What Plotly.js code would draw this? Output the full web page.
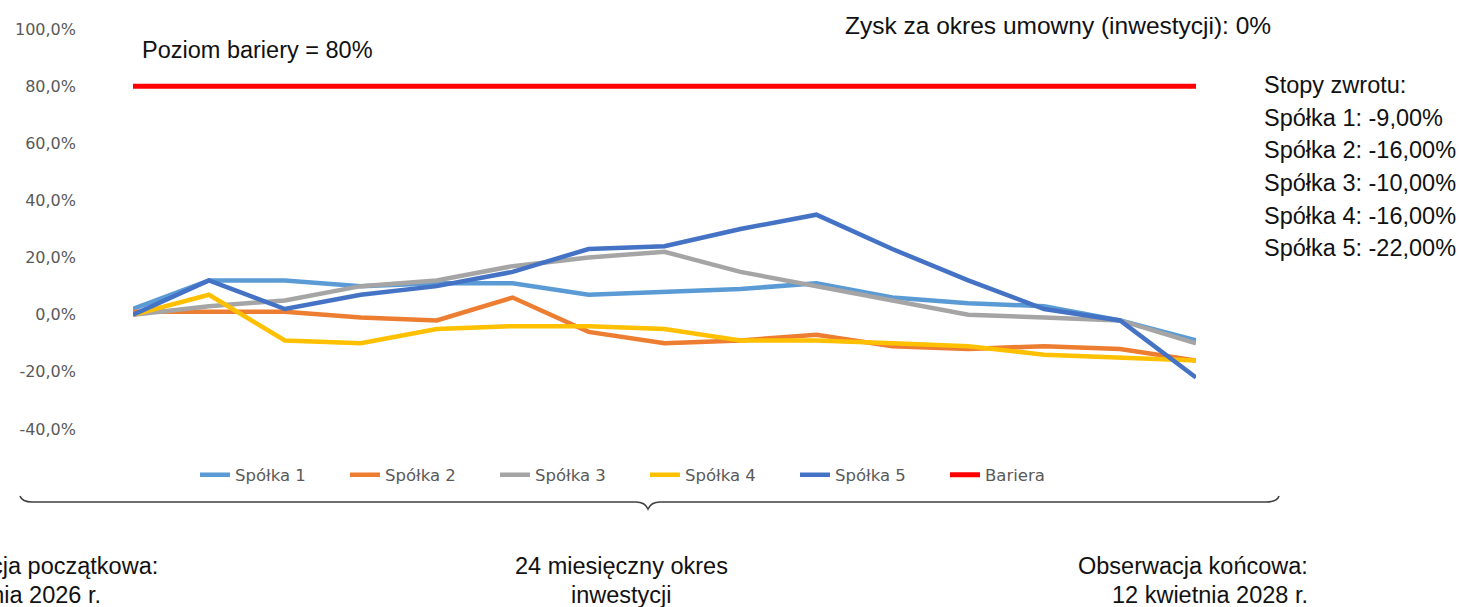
<!DOCTYPE html>
<html>
<head>
<meta charset="utf-8">
<script src="https://cdn.plot.ly/plotly-3.0.1.min.js"></script>
<style>html,body{margin:0;padding:0;background:#fff;overflow:hidden}#chart{width:1461px;height:607px}</style>
</head>
<body>
<div id="chart"></div>
<script>
// Observation points (15 observations over the 24-month period)
const observations = [0,1,2,3,4,5,6,7,8,9,10,11,12,13,14];
const spolka1 = [2, 12, 12, 10, 11, 11, 7, 8, 9, 11, 6, 4, 3, -2, -9];
const spolka2 = [1, 1, 1, -1, -2, 6, -6, -10, -9, -7, -11, -12, -11, -12, -16];
const spolka3 = [0, 3, 5, 10, 12, 17, 20, 22, 15, 10, 5, 0, -1, -2, -10];
const spolka4 = [0, 7, -9, -10, -5, -4, -4, -5, -9, -9, -10, -11, -14, -15, -16];
const spolka5 = [0, 12, 2, 7, 10, 15, 23, 24, 30, 35, 23, 12, 2, -2, -22];
const bariera = [80, 80, 80, 80, 80, 80, 80, 80, 80, 80, 80, 80, 80, 80, 80];
const seriesNames = ["Spółka 1", "Spółka 2", "Spółka 3", "Spółka 4", "Spółka 5", "Bariera"];
const seriesColors = ["#5B9BD5", "#ED7D31", "#A5A5A5", "#FFC000", "#4472C4", "#FF0000"];
const yTickVals = [-40, -20, 0, 20, 40, 60, 80, 100];
const yTickText = ["-40,0%", "-20,0%", "0,0%", "20,0%", "40,0%", "60,0%", "80,0%", "100,0%"];
const stopyLines = ["Stopy zwrotu:", "Spółka 1: -9,00%", "Spółka 2: -16,00%", "Spółka 3: -10,00%", "Spółka 4: -16,00%", "Spółka 5: -22,00%"];

// layout geometry (pixels)
const W = 1461, H = 607;
const L = 133, R = 1196, T = 29, B = 429;
const px = x => (x - L) / (R - L);
const py = y => (B - y) / (B - T);

const allSeries = [spolka1, spolka2, spolka3, spolka4, spolka5, bariera];
const traces = allSeries.map((s, i) => ({
  x: observations, y: s, type: "scatter", mode: "lines", name: seriesNames[i],
  line: {color: seriesColors[i], width: i === 5 ? 5 : 4.5, shape: "linear"},
  hoverinfo: "skip", cliponaxis: false
}));

const txtFont = {family: "Liberation Sans, Arial, sans-serif", size: 23.5, color: "#111"};
const annotations = [
  {text: "Poziom bariery = 80%", x: px(140), y: py(50), xanchor: "left", yanchor: "middle"},
  {text: "Zysk za okres umowny (inwestycji): 0%", x: px(843), y: py(26), xanchor: "left", yanchor: "middle", size: 24.5},
  {text: "24 miesięczny okres", x: px(621), y: py(566), xanchor: "center", yanchor: "middle"},
  {text: "inwestycji", x: px(621), y: py(595), xanchor: "center", yanchor: "middle"},
  {text: "Obserwacja końcowa:", x: px(1310), y: py(566), xanchor: "right", yanchor: "middle"},
  {text: "12 kwietnia 2028 r.", x: px(1310), y: py(595), xanchor: "right", yanchor: "middle"},
  {text: "Obserwacja początkowa:", x: px(160), y: py(566), xanchor: "right", yanchor: "middle"},
  {text: "12 kwietnia 2026 r.", x: px(103), y: py(595), xanchor: "right", yanchor: "middle"}
];
const stopyY = [85, 118, 150, 183, 216, 248];
stopyLines.forEach((t, i) => annotations.push({text: t, x: px(1262), y: py(stopyY[i]), xanchor: "left", yanchor: "middle"}));
annotations.forEach(a => {
  a.xref = "paper"; a.yref = "paper"; a.showarrow = false;
  a.font = Object.assign({}, txtFont, a.size ? {size: a.size} : {});
  delete a.size;
});

const P = (x, y) => px(x) + "," + py(y);
const bracePath = "M" + P(20, 496) + " Q" + P(22, 502) + " " + P(32, 502) +
  " L" + P(636, 502) + " Q" + P(645, 502) + " " + P(648, 509) +
  " Q" + P(651, 502) + " " + P(660, 502) +
  " L" + P(1266, 502) + " Q" + P(1277, 502) + " " + P(1279, 496);

const tickFont = {family: "DejaVu Sans, sans-serif", size: 16, color: "#595959"};
const legendFont = {family: "DejaVu Sans, sans-serif", size: 16.5, color: "#595959"};
const layout = {
  width: W, height: H,
  margin: {l: L, r: W - R, t: T, b: H - B, pad: 0},
  paper_bgcolor: "#fff", plot_bgcolor: "#fff",
  showlegend: true,
  legend: {orientation: "h", x: px(195), y: py(475), xanchor: "left", yanchor: "middle",
           bgcolor: "rgba(0,0,0,0)", entrywidth: 105, entrywidthmode: "pixels",
           font: legendFont, traceorder: "normal"},
  xaxis: {range: [0, 14], visible: false, showgrid: false, zeroline: false, fixedrange: true},
  yaxis: {range: [-40, 100], tickvals: yTickVals, ticktext: yTickText, showgrid: false, zeroline: false,
          showline: false, ticks: "", ticklabelstandoff: 56,
          tickfont: tickFont, fixedrange: true},
  annotations: annotations,
  shapes: [{type: "path", xref: "paper", yref: "paper", path: bracePath, line: {color: "#404040", width: 1.6}}]
};

Plotly.newPlot("chart", traces, layout, {staticPlot: true, displayModeBar: false});
</script>
</body>
</html>
